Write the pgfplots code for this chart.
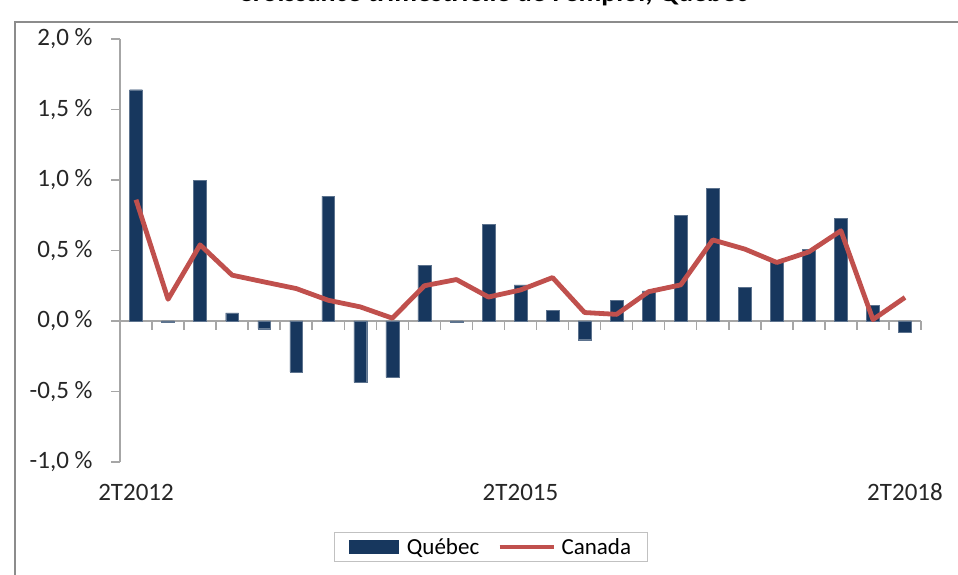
\documentclass[border=0pt]{standalone}
\usepackage{pgfplots}
\pgfplotsset{compat=1.18}
\usepackage{fontspec}
\setmainfont{Carlito}
\definecolor{qc}{HTML}{17375E}
\definecolor{ca}{HTML}{C0504D}
\definecolor{axg}{HTML}{A6A6A6}
\definecolor{frm}{HTML}{8C8C8C}
\begin{document}
\begin{tikzpicture}[x=1bp,y=1bp]
\useasboundingbox (0,0) rectangle (958,575);
\draw[frm, line width=2bp] (15,0) -- (15,553) -- (958,553);
\node[anchor=base, font=\fontsize{28bp}{32bp}\selectfont\bfseries, inner sep=0] at (493,573) {Croissance trimestrielle de l'emploi, Québec};
\begin{axis}[
  at={(120bp,113bp)}, anchor=south west, scale only axis, width=801bp, height=423bp,
  xmin=-0.5, xmax=24.5, ymin=-1, ymax=2,
  axis x line=middle, axis y line=left,
  axis line style={-, axg, line width=1.5bp},
  hide obscured x ticks=false, hide obscured y ticks=false,
  xtick={-0.5,0.5,...,24.5}, xticklabels={},
  ytick={-1,-0.5,0,0.5,1,1.5,2},
  yticklabels={{-1,0 \%},{-0,5 \%},{0,0 \%},{0,5 \%},{1,0 \%},{1,5 \%},{2,0 \%}},
  tick style={axg, line width=1.5bp}, major tick length=9bp, tick align=outside,
  yticklabel style={font=\fontsize{25bp}{30bp}\selectfont, text=black!85, xshift=-15bp},
  clip=false,
  legend style={at={(0.4632,-0.2009)}, anchor=center, draw=axg!70, line width=1bp,
    font=\fontsize{23bp}{27bp}\selectfont, inner xsep=14bp, inner ysep=4bp,
    /tikz/every even column/.append style={column sep=16bp}},
  legend columns=2, legend cell align=left,
]
\addplot[ybar, bar width=0.4, fill=qc, draw=qc!70!white, line width=0.4bp,
  legend image code/.code={\fill[qc, draw=none] (0bp,-7bp) rectangle (50bp,7bp); \path[draw=none, fill=none] (0bp,0bp) -- (56bp,0bp);}]
coordinates {
(0,1.64) (1,-0.01) (2,0.995) (3,0.057) (4,-0.055) (5,-0.36) (6,0.886) (7,-0.436)
(8,-0.40) (9,0.396) (10,-0.01) (11,0.685) (12,0.256) (13,0.075) (14,-0.133)
(15,0.148) (16,0.213) (17,0.75) (18,0.94) (19,0.239) (20,0.42) (21,0.51)
(22,0.73) (23,0.11) (24,-0.08)};
\addplot[ca, line width=4.8bp, line join=round, no markers,
  legend image code/.code={\draw[ca, line width=4.8bp] (0bp,0bp) -- (54bp,0bp); \path[draw=none] (0bp,0bp) -- (60bp,0bp);}]
coordinates {
(0,0.86) (1,0.154) (2,0.54) (3,0.325) (4,0.277) (5,0.23) (6,0.147) (7,0.10)
(8,0.02) (9,0.25) (10,0.294) (11,0.17) (12,0.22) (13,0.308) (14,0.06)
(15,0.047) (16,0.208) (17,0.256) (18,0.575) (19,0.51) (20,0.415) (21,0.49)
(22,0.64) (23,0.01) (24,0.167)};
\legend{Québec, Canada}
\node[anchor=base, font=\fontsize{25bp}{30bp}\selectfont, text=black!85] at ([yshift=-39bp]axis cs:0,-1) {2T2012};
\node[anchor=base, font=\fontsize{25bp}{30bp}\selectfont, text=black!85] at ([yshift=-39bp]axis cs:12,-1) {2T2015};
\node[anchor=base, font=\fontsize{25bp}{30bp}\selectfont, text=black!85] at ([yshift=-39bp]axis cs:24,-1) {2T2018};
\end{axis}
\end{tikzpicture}
\end{document}
